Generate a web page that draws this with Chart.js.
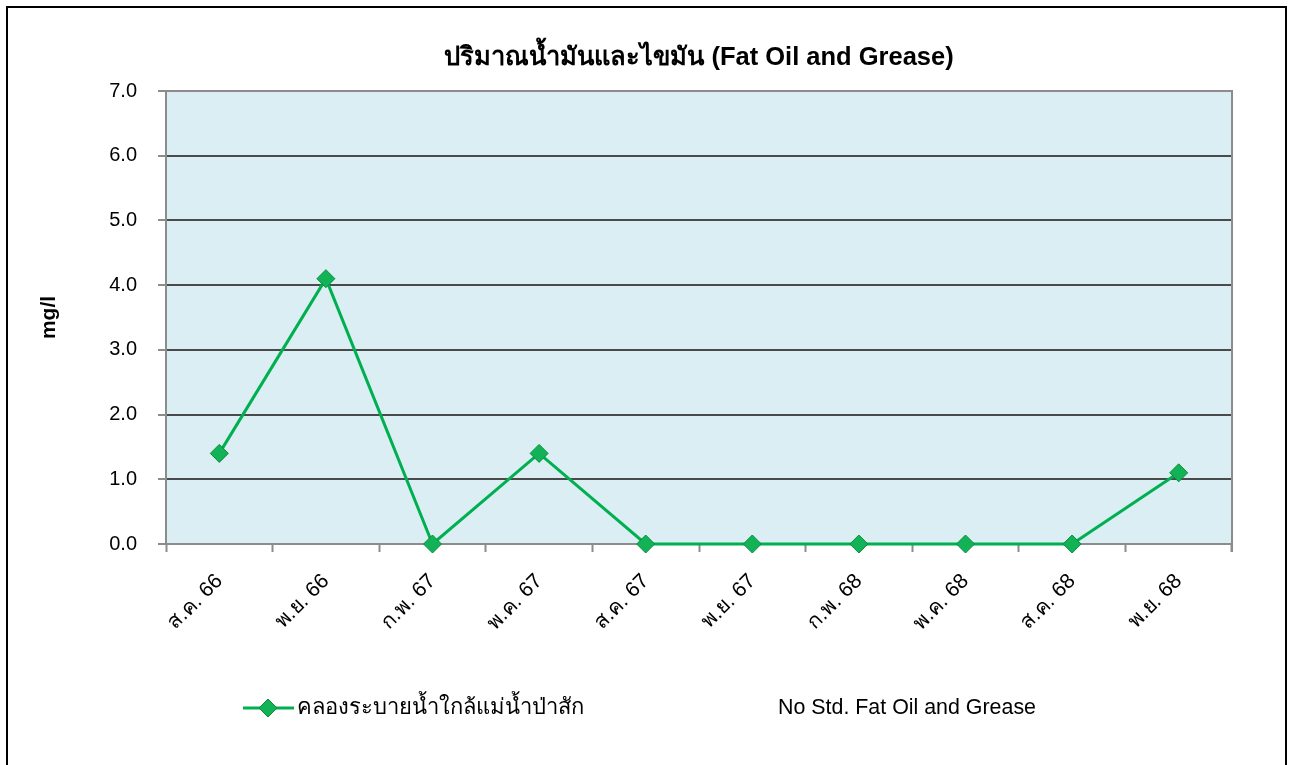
<!DOCTYPE html>
<html>
<head>
<meta charset="utf-8">
<script src="https://cdn.jsdelivr.net/npm/chart.js@4.4.1/dist/chart.umd.min.js"></script>
<style>
html, body { margin: 0; padding: 0; background: #fff; }
canvas { display: block; }
</style>
</head>
<body>
<canvas id="fog" width="1292" height="765"></canvas>
<script>
// data
const chartTitle = 'ปริมาณน้ำมันและไขมัน (Fat Oil and Grease)'
const months = ['ส.ค. 66', 'พ.ย. 66', 'ก.พ. 67', 'พ.ค. 67', 'ส.ค. 67', 'พ.ย. 67', 'ก.พ. 68', 'พ.ค. 68', 'ส.ค. 68', 'พ.ย. 68']
const canalValues = [1.4, 4.1, 0, 1.4, 0, 0, 0, 0, 0, 1.1]
const stdValues = []
const seriesNames = ['คลองระบายน้ำใกล้แม่น้ำป่าสัก', 'No Std. Fat Oil and Grease']
const yMin = 0
const yMax = 7
const yStep = 1
const yUnit = 'mg/l'

const FONT = '"Liberation Sans", Arial, sans-serif'
const GREEN = '#00b050'

function diamond(ctx, x, y, r) {
    ctx.beginPath()
    ctx.moveTo(x, y - r)
    ctx.lineTo(x + r, y)
    ctx.lineTo(x, y + r)
    ctx.lineTo(x - r, y)
    ctx.closePath()
    ctx.fillStyle = '#12b356'
    ctx.fill()
    ctx.lineWidth = 1
    ctx.strokeStyle = '#0a8b3c'
    ctx.stroke()
}

// plot background, frame, title and legend
const decor = {
    id: 'decor',
    beforeDraw(chart) {
        const {ctx, chartArea: a} = chart
        ctx.save()
        ctx.fillStyle = '#daeef3'
        ctx.fillRect(a.left, a.top, a.right - a.left, a.bottom - a.top)
        ctx.restore()
    },
    afterDraw(chart) {
        const {ctx, chartArea: a} = chart
        ctx.save()
        ctx.strokeStyle = '#8c8c8c'
        ctx.lineWidth = 2
        ctx.beginPath()
        ctx.moveTo(a.left, a.top)
        ctx.lineTo(a.right, a.top)
        ctx.lineTo(a.right, a.bottom + 8)
        ctx.stroke()

        // outer frame
        ctx.strokeStyle = '#000'
        ctx.lineWidth = 2
        ctx.strokeRect(7, 7, 1279, 800)

        // title
        ctx.fillStyle = '#000'
        ctx.font = 'bold 25.5px ' + FONT
        ctx.textAlign = 'center'
        ctx.textBaseline = 'middle'
        ctx.fillText(chartTitle, (a.left + a.right) / 2, 58)

        // legend
        const ly = 708
        ctx.strokeStyle = GREEN
        ctx.lineWidth = 3
        ctx.beginPath()
        ctx.moveTo(243, ly)
        ctx.lineTo(294, ly)
        ctx.stroke()
        diamond(ctx, 268, ly, 9)
        ctx.textAlign = 'left'
        ctx.fillStyle = '#000'
        ctx.font = '22px ' + FONT
        ctx.fillText(chart.data.datasets[0].label, 297, ly)
        ctx.font = '21.4px ' + FONT
        ctx.fillText(chart.data.datasets[1].label, 778, ly)
        ctx.restore()
    }
}

const ctx = document.getElementById('fog').getContext('2d')
const fog = new Chart(ctx, {
    type: 'line',
    data: {
        labels: months,
        datasets: [{
            label: seriesNames[0],
            data: canalValues,
            borderColor: GREEN,
            borderWidth: 3,
            pointStyle: 'rectRot',
            pointRadius: 9,
            pointBackgroundColor: '#12b356',
            pointBorderColor: '#0a8b3c',
            pointBorderWidth: 1,
            fill: false,
            tension: 0
        }, {
            label: seriesNames[1],
            data: stdValues,
            borderColor: 'rgba(0,0,0,0)',
            pointRadius: 0
        }]
    },
    options: {
        responsive: false,
        animation: false,
        devicePixelRatio: 1,
        clip: false,
        layout: {
            padding: {left: 20, right: 60, top: 91, bottom: 101}
        },
        plugins: {
            legend: {display: false},
            title: {display: false},
            tooltip: {enabled: false}
        },
        scales: {
            x: {
                offset: true,
                afterFit: (scale) => { scale.height = 120 },
                grid: {
                    offset: true,
                    drawOnChartArea: false,
                    drawTicks: true,
                    tickLength: 8,
                    tickColor: '#8c8c8c',
                    tickWidth: 2
                },
                border: {color: '#8c8c8c', width: 2},
                ticks: {
                    maxRotation: 45,
                    minRotation: 45,
                    padding: 17,
                    color: '#000',
                    font: {family: FONT, size: 21}
                }
            },
            y: {
                min: yMin,
                max: yMax,
                afterFit: (scale) => { scale.width = 146 },
                grid: {
                    color: '#4a4a4a',
                    lineWidth: 2,
                    tickLength: 8,
                    tickColor: '#8c8c8c',
                    tickWidth: 2
                },
                border: {color: '#8c8c8c', width: 2},
                ticks: {
                    stepSize: yStep,
                    padding: 21,
                    color: '#000',
                    font: {family: FONT, size: 20},
                    callback: (v) => Number(v).toFixed(1)
                },
                title: {
                    display: true,
                    text: yUnit,
                    color: '#000',
                    padding: {top: 17, bottom: 0},
                    font: {family: FONT, size: 21, weight: 'bold'}
                }
            }
        }
    },
    plugins: [decor]
})
</script>
</body>
</html>
